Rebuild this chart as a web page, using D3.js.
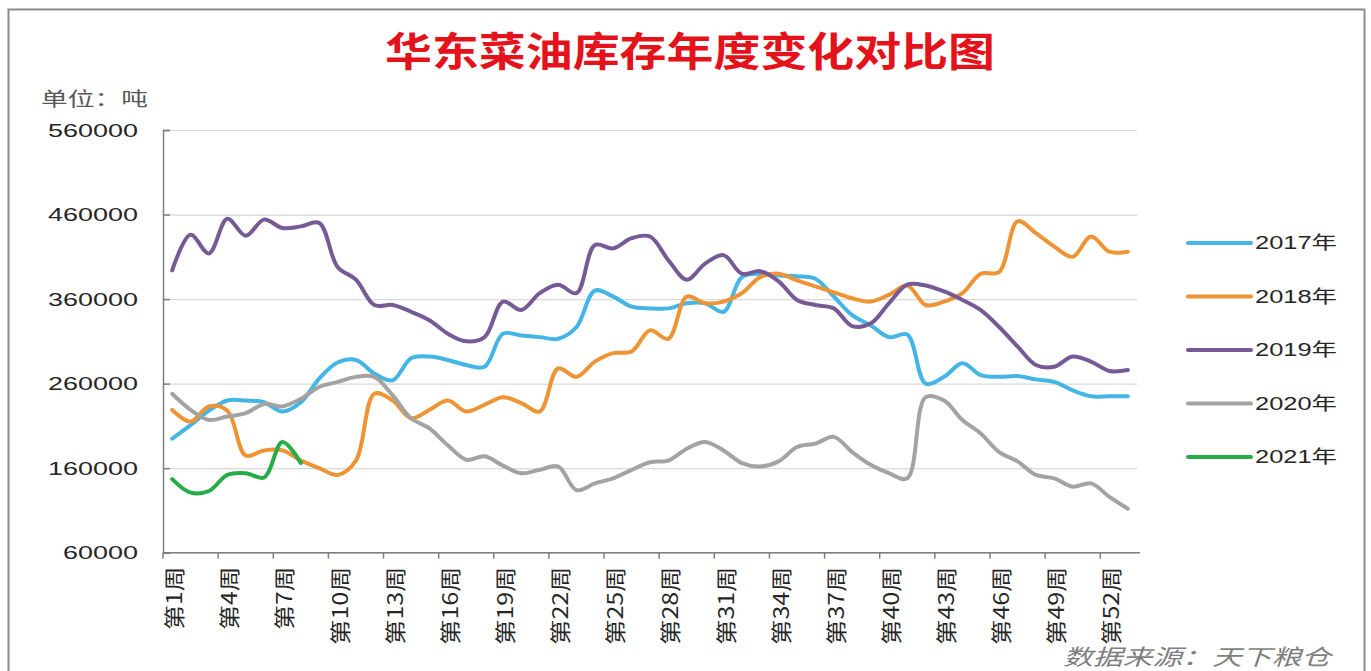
<!DOCTYPE html>
<html>
<head>
<meta charset="utf-8">
<script src="https://cdn.jsdelivr.net/npm/d3@7"></script>
<style>
  body { margin: 0; background: #fff; }
  svg { display: block; font-family: Arial, "Liberation Sans", "Noto Sans CJK SC", sans-serif; }
</style>
</head>
<body>
<svg width="1371" height="671"></svg>
<script>
// Data
const weeks = d3.range(1, 54).map(w => `第${w}周`);
const week_labels = ['第1周', '第4周', '第7周', '第10周', '第13周', '第16周', '第19周', '第22周', '第25周',
    '第28周', '第31周', '第34周', '第37周', '第40周', '第43周', '第46周', '第49周', '第52周'];
const y_ticks = [60000, 160000, 260000, 360000, 460000, 560000];
const years = ['2017年', '2018年', '2019年', '2020年', '2021年'];
const colors = ['#45b5e6', '#ee9434', '#765a96', '#a3a3a3', '#27ad48'];

const s2017 = [195000, 211000, 228000, 240000, 240000, 238000, 227000, 238000, 266000, 285000,
    288000, 272000, 264000, 290000, 292000, 288000, 282000, 280000, 319000, 317000,
    315000, 313000, 327000, 370000, 363000, 351000, 349000, 349000, 355000, 355000,
    345000, 386000, 390000, 388000, 387000, 384000, 363000, 341000, 329000, 315000,
    318000, 260000, 268000, 284000, 270000, 268000, 269000, 265000, 262000, 252000,
    245000, 245000, 245000];
const s2018 = [229000, 215000, 233000, 228000, 175000, 181000, 181000, 169000, 160000, 152000,
    169000, 248000, 240000, 219000, 229000, 240000, 227000, 235000, 244000, 237000,
    227000, 278000, 268000, 286000, 296000, 298000, 323000, 313000, 363000, 355000,
    357000, 367000, 386000, 390000, 382000, 375000, 368000, 361000, 357000, 365000,
    376000, 353000, 357000, 367000, 390000, 392000, 452000, 438000, 422000, 410000,
    434000, 416000, 416000];
const s2019 = [394000, 436000, 414000, 455000, 435000, 454000, 444000, 446000, 450000, 398000,
    383000, 353000, 353000, 345000, 335000, 319000, 310000, 315000, 357000, 347000,
    367000, 377000, 367000, 424000, 420000, 432000, 434000, 406000, 383000, 402000,
    412000, 390000, 393000, 381000, 359000, 353000, 349000, 328000, 331000, 355000,
    377000, 376000, 369000, 359000, 347000, 327000, 304000, 282000, 280000, 292000,
    286000, 275000, 276000];
const s2020 = [248000, 229000, 217000, 221000, 225000, 236000, 233000, 242000, 256000, 262000,
    268000, 268000, 246000, 219000, 207000, 187000, 170000, 174000, 163000, 154000,
    158000, 162000, 134000, 142000, 148000, 158000, 167000, 169000, 183000, 191000,
    181000, 166000, 162000, 168000, 185000, 189000, 197000, 179000, 164000, 154000,
    148000, 244000, 240000, 217000, 201000, 179000, 168000, 152000, 148000, 138000,
    142000, 126000, 112000];
const s2021 = [147000, 131000, 133000, 152000, 154000, 149000, 191000, 166000];

const series = [s2017, s2018, s2019, s2020, s2021];

// Layout
const svg = d3.select('svg');
const plot = { left: 163, right: 1137, top: 130, bottom: 552.7 };

// Frame
svg.append('rect')
    .attr('x', 8.5).attr('y', 9.5)
    .attr('width', 1356).attr('height', 700)
    .attr('fill', 'none')
    .attr('stroke', '#8c8c8c')
    .attr('stroke-width', 2);

// Title
svg.append('text')
    .attr('x', 385).attr('y', 66)
    .attr('textLength', 610)
    .attr('lengthAdjust', 'spacingAndGlyphs')
    .attr('fill', '#e3121b')
    .style('font-family', '"Noto Sans CJK SC", sans-serif')
    .style('font-weight', 'bold')
    .style('font-size', '40px')
    .text('华东菜油库存年度变化对比图');

// Unit
svg.append('text')
    .attr('x', 41).attr('y', 106)
    .attr('textLength', 107)
    .attr('lengthAdjust', 'spacingAndGlyphs')
    .attr('fill', '#595959')
    .style('font-family', '"Noto Sans CJK SC", sans-serif')
    .style('font-size', '19px')
    .text('单位：吨');

// Scales
const x = d3.scaleBand().domain(weeks).range([plot.left, plot.right]).padding(0);
const y = d3.scaleLinear().domain([60000, 560000]).range([plot.bottom, plot.top]);

// Gridlines
svg.append('g')
    .attr('transform', `translate(${plot.left}, 0)`)
    .call(d3.axisLeft(y).tickValues(y_ticks).tickSize(-(plot.right - plot.left)).tickFormat(''))
    .call(g => g.select('.domain').remove())
    .call(g => g.selectAll('line').attr('stroke', '#d9d9d9').attr('stroke-width', 1.2));

// Y axis
svg.append('g')
    .attr('transform', `translate(${plot.left}, 0)`)
    .call(d3.axisLeft(y).tickValues(y_ticks).tickSize(-7).tickPadding(25).tickFormat(d3.format('d')))
    .call(g => g.select('.domain').attr('stroke', '#7f7f7f').attr('stroke-width', 1.5))
    .call(g => g.selectAll('line').attr('stroke', '#7f7f7f').attr('stroke-width', 1.5))
    .call(g => g.selectAll('text')
        .attr('fill', '#262626')
        .style('font-size', '19px')
        .style('font-family', 'Arial, "Liberation Sans", sans-serif')
        .attr('lengthAdjust', 'spacingAndGlyphs')
        .attr('textLength', d => String(d).length * 15));

// X axis line and ticks at category boundaries
const xAxis = svg.append('g').attr('transform', `translate(0, ${plot.bottom})`);
xAxis.append('line')
    .attr('x1', plot.left).attr('x2', plot.right + 3)
    .attr('stroke', '#7f7f7f').attr('stroke-width', 1.5);
xAxis.selectAll('.tick-mark')
    .data(week_labels)
    .enter().append('line')
    .attr('class', 'tick-mark')
    .attr('x1', d => x(d)).attr('x2', d => x(d))
    .attr('y1', 0).attr('y2', 6)
    .attr('stroke', '#7f7f7f').attr('stroke-width', 1.5);
xAxis.selectAll('.tick-label')
    .data(week_labels)
    .enter().append('text')
    .attr('class', 'tick-label')
    .attr('transform', d => `translate(${x(d) + x.bandwidth() / 2 + 1}, 14) rotate(-90)`)
    .attr('text-anchor', 'end')
    .attr('dominant-baseline', 'central')
    .attr('textLength', d => d.length > 3 ? 78 : 63)
    .attr('lengthAdjust', 'spacingAndGlyphs')
    .attr('fill', '#262626')
    .style('font-family', '"Noto Sans CJK SC", sans-serif')
    .style('font-size', '21px')
    .text(d => d);

// Lines
const line = d3.line()
    .x((d, i) => x(weeks[i]) + x.bandwidth() / 2)
    .y(d => y(d))
    .curve(d3.curveCatmullRom.alpha(0.5));

svg.append('g').selectAll('path')
    .data(series)
    .enter().append('path')
    .attr('d', d => line(d))
    .attr('fill', 'none')
    .attr('stroke', (d, i) => colors[i])
    .attr('stroke-width', 4)
    .attr('stroke-linejoin', 'round')
    .attr('stroke-linecap', 'round');

// Legend
const legend = svg.append('g');
years.forEach((name, i) => {
    const ly = 243 + i * 53.5;
    legend.append('line')
        .attr('x1', 1188).attr('x2', 1251)
        .attr('y1', ly).attr('y2', ly)
        .attr('stroke', colors[i])
        .attr('stroke-width', 4)
        .attr('stroke-linecap', 'round');
    legend.append('text')
        .attr('x', 1255).attr('y', ly)
        .attr('dominant-baseline', 'central')
        .attr('textLength', 82)
        .attr('lengthAdjust', 'spacingAndGlyphs')
        .attr('fill', '#262626')
        .style('font-family', 'Arial, "Noto Sans CJK SC", sans-serif')
        .style('font-size', '18px')
        .text(name);
});

// Source
svg.append('text')
    .attr('x', 1063).attr('y', 665)
    .attr('textLength', 268)
    .attr('lengthAdjust', 'spacingAndGlyphs')
    .attr('fill', '#7f7f7f')
    .style('font-family', '"Noto Sans CJK SC", sans-serif')
    .style('font-style', 'italic')
    .style('font-size', '22px')
    .text('数据来源：天下粮仓');
</script>
</body>
</html>
